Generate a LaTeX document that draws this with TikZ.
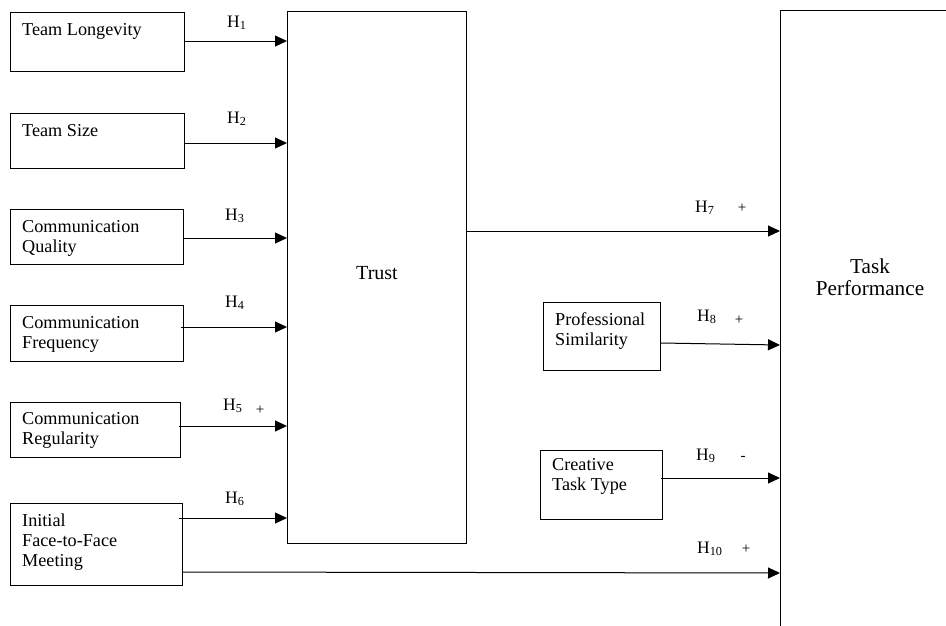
\documentclass[tikz,border=0pt]{standalone}
\usepackage{fontspec}
\setmainfont{Liberation Serif}
\usetikzlibrary{arrows.meta,calc}
\newcommand\hy[1]{H\textsubscript{#1}}
\begin{document}
\begin{tikzpicture}[x=1pt,y=-1pt,
  box/.style={draw,line width=1pt,inner sep=0pt,anchor=north west},
  txt/.style={anchor=base west,inner sep=0pt,align=left,font=\fontsize{18.2}{20}\selectfont},
  hl/.style={anchor=base west,inner sep=0pt,font=\fontsize{17.5}{20}\selectfont},
  sg/.style={anchor=center,inner sep=0pt,font=\fontsize{15}{15}\selectfont},
  arr/.style={line width=1pt,-{Triangle[length=12pt,width=11pt]}}]
\useasboundingbox (0,0) rectangle (946,625);
% left boxes
\node[box,minimum width=174pt,minimum height=59pt] (tl) at (10,12) {};
\node[box,minimum width=174pt,minimum height=55pt] (ts) at (10,113) {};
\node[box,minimum width=173pt,minimum height=55pt] (cq) at (10,209) {};
\node[box,minimum width=173pt,minimum height=56pt] (cf) at (10,305) {};
\node[box,minimum width=170pt,minimum height=55pt] (cr) at (10,402) {};
\node[box,minimum width=172pt,minimum height=82pt] (ifm) at (10,503) {};
\node[txt] (tlt) at (22,35) {Team Longevity};
\node[txt] (tst) at (22,136) {Team Size};
\node[txt] (cqt) at (22,252) {Communication\\Quality};
\node[txt] (cft) at (22,348) {Communication\\Frequency};
\node[txt] (crt) at (22,444) {Communication\\Regularity};
\node[txt] (ifmt) at (22,566) {Initial\\Face-to-Face\\Meeting};
% trust
\node[box,minimum width=179pt,minimum height=532pt] (trust) at (287,11) {};
\node[anchor=base,inner sep=0pt,font=\fontsize{20}{22}\selectfont] (trustt) at (377,279) {Trust};
% task performance
\coordinate (tpc) at (780,10);
\coordinate (tpe) at (950,10);
\coordinate (tpb) at (780,630);
\draw[line width=1pt] (tpe) -- (tpc) -- (tpb);
\node[anchor=base,inner sep=0pt,align=center,font=\fontsize{21.2}{22}\selectfont] (tpt) at (870,295) {Task\\Performance};
% middle boxes
\node[box,minimum width=117pt,minimum height=68pt] (ps) at (543,302) {};
\node[box,minimum width=122pt,minimum height=69pt] (ct) at (540,450) {};
\node[txt] (pst) at (555,345) {Professional\\Similarity};
\node[txt] (ctt) at (552,490) {Creative\\Task Type};
% start coordinates
\coordinate (s1) at ($(tl.north east)+(0,29)$);
\coordinate (s2) at ($(ts.north east)+(0,30)$);
\coordinate (s3) at ($(cq.north east)+(0,29)$);
\coordinate (s4) at ($(cf.north east)+(-3,22)$);
\coordinate (s5) at ($(cr.north east)+(-2,24)$);
\coordinate (s6) at ($(ifm.north east)+(-4,15)$);
\coordinate (s7) at ($(trust.north east)+(0,220)$);
\coordinate (s8) at ($(ps.north east)+(0,41)$);
\coordinate (e8) at ($(tpc)+(0,335)$);
\coordinate (s9) at ($(ct.north east)+(-2,28)$);
\coordinate (s10) at ($(ifm.north east)+(0,69)$);
\coordinate (e10) at ($(tpc)+(0,563)$);
% arrows
\draw[arr] (s1) -- (s1 -| trust.west);
\draw[arr] (s2) -- (s2 -| trust.west);
\draw[arr] (s3) -- (s3 -| trust.west);
\draw[arr] (s4) -- (s4 -| trust.west);
\draw[arr] (s5) -- (s5 -| trust.west);
\draw[arr] (s6) -- (s6 -| trust.west);
\draw[arr] (s7) -- (s7 -| tpc);
\draw[arr] (s8) -- (e8);
\draw[arr] (s9) -- (s9 -| tpc);
\draw[arr] (s10) -- (e10);
% labels
\node[hl] (h1) at (227,27) {\hy{1}};
\node[hl] (h2) at (227,123) {\hy{2}};
\node[hl] (h3) at (225,220) {\hy{3}};
\node[hl] (h4) at (225,307) {\hy{4}};
\node[hl] (h5) at (223,410) {\hy{5}};
\node[hl] (h6) at (225,503) {\hy{6}};
\node[hl] (h7) at (695,212) {\hy{7}};
\node[hl] (h8) at (697,321) {\hy{8}};
\node[hl] (h9) at (696,460) {\hy{9}};
\node[hl] (h10) at (697,553) {\hy{10}};
\node[sg] (p5) at (260,410) {+};
\node[sg] (p7) at (742,208) {+};
\node[sg] (p8) at (739,320) {+};
\node[sg] (m9) at (743,458) {-};
\node[sg] (p10) at (746,549) {+};
\end{tikzpicture}
\end{document}
